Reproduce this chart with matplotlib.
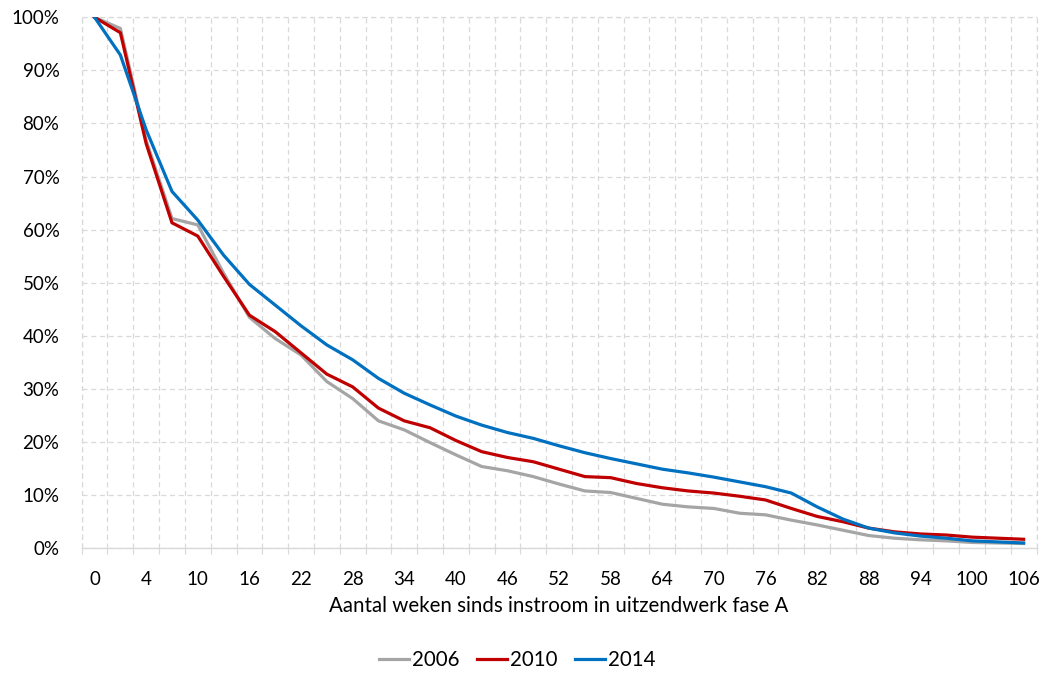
import matplotlib
matplotlib.use("Agg")
import matplotlib.pyplot as plt
from matplotlib.ticker import FixedLocator, PercentFormatter

plt.rcParams['font.family'] = ['Lato', 'DejaVu Sans']

weeks = [0, 1] + list(range(4, 107, 3))
series_2006 = [100, 97.9, 76.8, 62.1, 60.9, 51.8, 43.5, 39.5, 36.4, 31.4, 28.2, 24.0,
               22.3, 19.9, 17.6, 15.4, 14.6, 13.5, 12.1, 10.8, 10.5, 9.4, 8.3, 7.8,
               7.5, 6.6, 6.3, 5.3, 4.4, 3.4, 2.4, 1.9, 1.6, 1.4, 1.1, 1.0, 0.9]
series_2010 = [100, 97.1, 76.2, 61.3, 58.8, 51.2, 43.9, 40.8, 36.8, 32.8, 30.4, 26.4,
               24.0, 22.7, 20.3, 18.2, 17.1, 16.3, 14.9, 13.5, 13.3, 12.2, 11.4, 10.8,
               10.4, 9.8, 9.1, 7.5, 6.0, 5.0, 3.8, 3.1, 2.7, 2.5, 2.1, 1.9, 1.7]
series_2014 = [100, 92.9, 78.8, 67.2, 61.8, 55.2, 49.7, 45.8, 41.9, 38.3, 35.5, 32.0,
               29.2, 27.0, 24.9, 23.2, 21.8, 20.7, 19.3, 18.0, 16.9, 15.9, 14.9, 14.2,
               13.4, 12.5, 11.6, 10.4, 7.8, 5.5, 3.8, 2.9, 2.3, 1.9, 1.4, 1.2, 1.0]
series_names = ['2006', '2010', '2014']
colors = ['#A5A5A5', '#C00000', '#0070C0']
x_label = 'Aantal weken sinds instroom in uitzendwerk fase A'

fig = plt.figure(figsize=(10.47, 6.73), dpi=100)
ax = fig.add_axes([0.078, 0.1853, 0.912, 0.789])

idx = list(range(len(weeks)))
handles = []
for vals, name, c in zip([series_2006, series_2010, series_2014], series_names, colors):
    h, = ax.plot(idx, vals, color=c, lw=2.3, solid_joinstyle='round', zorder=3)
    handles.append(h)

ax.set_xlim(-0.5, len(weeks) - 0.5)
ax.set_ylim(0, 100)

ax.yaxis.set_major_locator(FixedLocator(list(range(0, 101, 10))))
ax.yaxis.set_major_formatter(PercentFormatter(decimals=0))

ax.xaxis.set_major_locator(FixedLocator(idx[::2]))
ax.set_xticklabels([str(w) for w in weeks[::2]])
ax.xaxis.set_minor_locator(FixedLocator([i + 0.5 for i in range(-1, len(weeks))]))

ax.tick_params(axis='x', which='major', length=0, pad=16, labelsize=13.5, colors='#000000')
ax.tick_params(axis='x', which='minor', length=4, width=0.8, color='#D9D9D9', direction='out')
ax.tick_params(axis='y', which='major', length=0, pad=16, labelsize=13.5, colors='#000000')

ax.grid(False)
ax.grid(True, axis='y', which='major', color='#D9D9D9', ls=(0, (4, 3)), lw=0.9, zorder=0)
ax.grid(True, axis='x', which='minor', color='#D9D9D9', ls=(0, (4, 3)), lw=0.9, zorder=0)
ax.axhline(100, color='#D9D9D9', ls=(0, (4, 3)), lw=0.9, zorder=0, clip_on=False)
ax.axvline(-0.5, color='#D9D9D9', ls=(0, (4, 3)), lw=0.9, zorder=0, clip_on=False)
ax.axvline(len(weeks) - 0.5, color='#D9D9D9', ls=(0, (4, 3)), lw=0.9, zorder=0, clip_on=False)

for s in ['top', 'left', 'right']:
    ax.spines[s].set_visible(False)
ax.spines['bottom'].set_color('#D9D9D9')
ax.spines['bottom'].set_linewidth(1.0)

ax.set_xlabel(x_label, fontsize=14.8, labelpad=6, color='#000000')

fig.legend(handles=handles, labels=series_names, loc='center', bbox_to_anchor=(0.494, 0.019),
           ncol=3, frameon=False, fontsize=14.8, handlelength=1.45, handletextpad=0.15,
           columnspacing=0.85)

fig.savefig('out.png', dpi=100)
